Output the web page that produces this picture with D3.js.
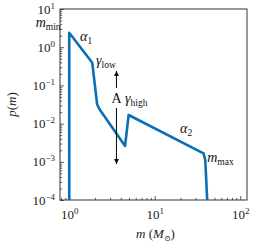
<!DOCTYPE html>
<html>
<head>
<meta charset="utf-8">
<script src="https://cdn.jsdelivr.net/npm/d3@7"></script>
<style>
  html, body { margin: 0; padding: 0; background: #fff; }
  svg { display: block; font-family: "Liberation Serif", "DejaVu Serif", serif; }
</style>
</head>
<body>
<svg id="chart" width="269" height="243"></svg>
<script>
// broken power law + peak
const massValues = [1, 1, 1.86, 2.12, 2.25, 4.5, 4.95, 37.2, 39.0, 41.1, 41.6];
const probValues = [1e-6, 2.4, 0.39, 0.032, 0.024, 0.0026, 0.0168, 0.00167, 0.00111, 1e-4, 1e-6];

const xMajorTicks = [1, 10, 100];
const xTickExponents = ["0", "1", "2"];
const yMajorTicks = [1e-4, 1e-3, 1e-2, 1e-1, 1, 10];
const yTickExponents = ["\u22124", "\u22123", "\u22122", "\u22121", "0", "1"];

// annotations: main symbol, subscript, position in data coords
const labelMain = ["m", "\u03b1", "\u03b3", "\u03b3", "\u03b1", "m", "A"];
const labelSub = ["min", "1", "low", "high", "2", "max", ""];
const labelMass = [0.405, 1.34, 2.06, 4.5, 19.8, 41.1, 3.57];
const labelProb = [3.4, 1.45, 0.342, 0.0346, 0.00567, 9.6e-4, 0.0346];

// amplitude arrows: mass, tail p, tip p
const arrowMass = [3.57, 3.57];
const arrowTail = [0.0855, 0.0256];
const arrowTip = [0.238, 8.75e-4];

const width = 269, height = 243;
const margin = { top: 9, right: 22, bottom: 43, left: 60 };
const lineColor = "#0b6fb4";

const svg = d3.select("#chart");

const x = d3.scaleLog().domain([0.78, 120]).range([margin.left, width - margin.right]);
const y = d3.scaleLog().domain([1e-4, 10]).range([height - margin.bottom, margin.top]);

const defs = svg.append("defs");
defs.append("clipPath").attr("id", "clip")
  .append("rect")
  .attr("x", margin.left).attr("y", margin.top)
  .attr("width", width - margin.left - margin.right)
  .attr("height", height - margin.top - margin.bottom);

const minorTicks = (lo, hi) => {
  const out = [];
  for (let e = Math.floor(Math.log10(lo)); e <= Math.ceil(Math.log10(hi)); e++) {
    for (let k = 2; k <= 9; k++) {
      const v = k * Math.pow(10, e);
      if (v >= lo && v <= hi) out.push(v);
    }
  }
  return out;
};

const supLabel = (sel, exps) => {
  sel.selectAll(".tick text").each(function (d, i) {
    const t = d3.select(this).text("");
    t.append("tspan").text("10");
    t.append("tspan").attr("dy", -5).style("font-size", "9px").text(exps[i]);
  });
};

// minor ticks
const gxMinor = svg.append("g")
  .attr("transform", `translate(0,${height - margin.bottom})`)
  .call(d3.axisBottom(x).tickValues(minorTicks(0.78, 120)).tickSize(-2.2).tickFormat(""));
const gyMinor = svg.append("g")
  .attr("transform", `translate(${margin.left},0)`)
  .call(d3.axisLeft(y).tickValues(minorTicks(1e-4, 10)).tickSize(-2.2).tickFormat(""));

// major ticks
const gx = svg.append("g")
  .attr("transform", `translate(0,${height - margin.bottom})`)
  .call(d3.axisBottom(x).tickValues(xMajorTicks).tickSize(-4).tickPadding(10));
const gy = svg.append("g")
  .attr("transform", `translate(${margin.left},0)`)
  .call(d3.axisLeft(y).tickValues(yMajorTicks).tickSize(-4).tickPadding(5));

[gxMinor, gyMinor, gx, gy].forEach((g) => {
  g.select(".domain").remove();
  g.selectAll(".tick line").attr("stroke", "#333").attr("stroke-width", 0.8);
});
[gx, gy].forEach((g) => {
  g.selectAll(".tick text")
    .attr("fill", "#222")
    .style("font-size", "13px")
    .style("font-family", "\"Liberation Serif\", \"DejaVu Serif\", serif");
});
supLabel(gx, xTickExponents);
supLabel(gy, yTickExponents);

// frame
svg.append("rect")
  .attr("x", margin.left).attr("y", margin.top)
  .attr("width", width - margin.left - margin.right)
  .attr("height", height - margin.top - margin.bottom)
  .attr("fill", "none").attr("stroke", "#333").attr("stroke-width", 1);

// curve
const line = d3.line().x((d) => x(d[0])).y((d) => y(d[1]));
svg.append("path")
  .datum(d3.zip(massValues, probValues))
  .attr("clip-path", "url(#clip)")
  .attr("d", line)
  .attr("fill", "none")
  .attr("stroke", lineColor)
  .attr("stroke-width", 2.6)
  .attr("stroke-linejoin", "round");

// arrows
defs.append("marker")
  .attr("id", "head")
  .attr("viewBox", "0 0 10 10")
  .attr("refX", 10).attr("refY", 5)
  .attr("markerWidth", 5).attr("markerHeight", 5)
  .attr("markerUnits", "userSpaceOnUse")
  .attr("orient", "auto")
  .append("path").attr("d", "M0,0 L10,5 L0,10 z").attr("fill", "#111");

arrowMass.forEach((m, i) => {
  svg.append("line")
    .attr("x1", x(m)).attr("x2", x(m))
    .attr("y1", y(arrowTail[i])).attr("y2", y(arrowTip[i]))
    .attr("stroke", "#111").attr("stroke-width", 1.1)
    .attr("marker-end", "url(#head)");
});

// annotations
labelMain.forEach((s, i) => {
  const isA = s === "A";
  const t = svg.append("text")
    .attr("x", x(labelMass[i]))
    .attr("y", y(labelProb[i]))
    .attr("text-anchor", isA ? "middle" : "start")
    .attr("fill", "#111")
    .style("font-size", "14px");
  t.append("tspan").style("font-style", isA ? "normal" : "italic").text(s);
  if (labelSub[i]) {
    t.append("tspan").attr("dy", 3).style("font-size", "9.5px").text(labelSub[i]);
  }
});

// axis titles
const xt = svg.append("text")
  .attr("x", (margin.left + width - margin.right) / 2 + 2)
  .attr("y", 238)
  .attr("text-anchor", "middle")
  .attr("fill", "#222")
  .style("font-size", "13px");
xt.append("tspan").style("font-style", "italic").text("m");
xt.append("tspan").text(" (");
xt.append("tspan").style("font-style", "italic").text("M");
xt.append("tspan").attr("dy", 3).style("font-size", "8px").text("\u2299");
xt.append("tspan").attr("dy", -3).text(")");

const yt = svg.append("text")
  .attr("transform", `translate(16,${(margin.top + height - margin.bottom) / 2}) rotate(-90)`)
  .attr("text-anchor", "middle")
  .attr("fill", "#222")
  .style("font-size", "13px");
yt.append("tspan").style("font-style", "italic").text("p");
yt.append("tspan").text("(");
yt.append("tspan").style("font-style", "italic").text("m");
yt.append("tspan").text(")");
</script>
</body>
</html>
